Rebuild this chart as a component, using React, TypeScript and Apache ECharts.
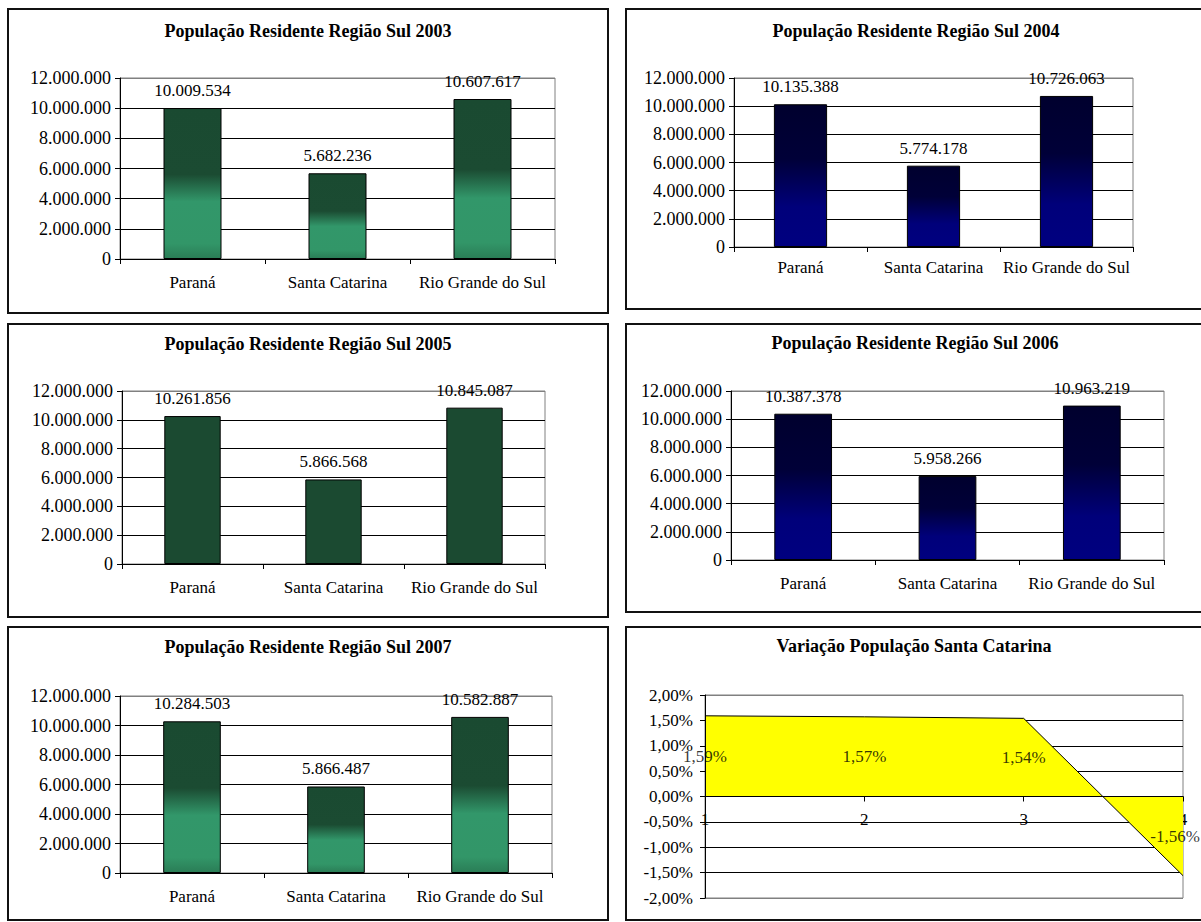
import React, { useEffect, useRef } from "react";
import * as echarts from "echarts";

// ---------- data ----------
const categories = ["Paraná", "Santa Catarina", "Rio Grande do Sul"];
const pop2003 = [10009534, 5682236, 10607617];
const pop2004 = [10135388, 5774178, 10726063];
const pop2005 = [10261856, 5866568, 10845087];
const pop2006 = [10387378, 5958266, 10963219];
const pop2007 = [10284503, 5866487, 10582887];
const popMin = 0;
const popMax = 12000000;
const popInterval = 2000000;

const variationCategories = ["1", "2", "3", "4"];
const variationSantaCatarina = [1.59, 1.57, 1.54, -1.56];
const pctMin = -2;
const pctMax = 2;
const pctInterval = 0.5;

const barTitles = [
  "População Residente Região Sul 2003",
  "População Residente Região Sul 2004",
  "População Residente Região Sul 2005",
  "População Residente Região Sul 2006",
  "População Residente Região Sul 2007",
];
const variationTitle = "Variação População Santa Catarina";

// ---------- styling ----------
const FONT = "Liberation Serif";
const FS = 17;
const FS_TITLE = 18;
const FS_POP_AXIS = 18;

function fmtThousands(v: number): string {
  return Math.round(v)
    .toString()
    .replace(/\B(?=(\d{3})+(?!\d))/g, ".");
}
function fmtPct(v: number): string {
  return v.toFixed(2).replace(".", ",") + "%";
}

function greenGradient() {
  return new echarts.graphic.LinearGradient(0, 0, 0, 1, [
    { offset: 0, color: "#1a4a31" },
    { offset: 0.44, color: "#1b4b32" },
    { offset: 0.62, color: "#32976a" },
    { offset: 0.9, color: "#329668" },
    { offset: 1, color: "#2a7d56" },
  ]);
}
function navyGradient() {
  return new echarts.graphic.LinearGradient(0, 0, 0, 1, [
    { offset: 0, color: "#00002e" },
    { offset: 0.38, color: "#000038" },
    { offset: 0.72, color: "#00007a" },
    { offset: 1, color: "#000080" },
  ]);
}
const solidGreen = "#1b4a31";

type BarPanel = {
  data: number[];
  title: string;
  fill: () => any;
  border: { x: number; y: number; w: number; h: number };
  titleX: number;
  titleY: number;
  grid: { left: number; top: number; width: number; height: number };
  catMargin: number;
};

const barPanels: BarPanel[] = [
  {
    data: pop2003,
    title: barTitles[0],
    fill: greenGradient,
    border: { x: 8, y: 9, w: 600, h: 304 },
    titleX: 308,
    titleY: 31,
    grid: { left: 120, top: 78, width: 435, height: 181 },
    catMargin: 15,
  },
  {
    data: pop2004,
    title: barTitles[1],
    fill: navyGradient,
    border: { x: 626, y: 9, w: 580, h: 300 },
    titleX: 916,
    titleY: 31,
    grid: { left: 734, top: 78, width: 399, height: 169 },
    catMargin: 12,
  },
  {
    data: pop2005,
    title: barTitles[2],
    fill: () => solidGreen,
    border: { x: 8, y: 324, w: 600, h: 293 },
    titleX: 308,
    titleY: 344,
    grid: { left: 122, top: 391, width: 423, height: 173 },
    catMargin: 15,
  },
  {
    data: pop2006,
    title: barTitles[3],
    fill: navyGradient,
    border: { x: 626, y: 324, w: 580, h: 288 },
    titleX: 915,
    titleY: 343,
    grid: { left: 731, top: 391, width: 433, height: 169 },
    catMargin: 15,
  },
  {
    data: pop2007,
    title: barTitles[4],
    fill: greenGradient,
    border: { x: 8, y: 627, w: 600, h: 293 },
    titleX: 308,
    titleY: 647,
    grid: { left: 120, top: 696, width: 432, height: 177 },
    catMargin: 15,
  },
];

const variationPanel = {
  border: { x: 626, y: 627, w: 580, h: 293 },
  titleX: 914,
  titleY: 646,
  grid: { left: 705, top: 695, width: 478, height: 203 },
};

function buildOption() {
  const grids: any[] = [];
  const xAxes: any[] = [];
  const yAxes: any[] = [];
  const series: any[] = [];
  const graphics: any[] = [];

  const textStyle = { color: "#000", fontFamily: FONT, fontSize: FS };

  barPanels.forEach((p, i) => {
    grids.push({
      ...p.grid,
      show: true,
      borderColor: "#808080",
      borderWidth: 1,
      backgroundColor: "transparent",
      containLabel: false,
      outerBoundsMode: "none",
    });
    xAxes.push({
      type: "category",
      gridIndex: i,
      data: categories,
      boundaryGap: true,
      axisLine: { show: true, onZero: false, lineStyle: { color: "#000", width: 1 } },
      axisTick: { show: true, length: 5, interval: 0, alignWithLabel: false, lineStyle: { color: "#000" } },
      axisLabel: { ...textStyle, interval: 0, margin: p.catMargin },
      splitLine: { show: false },
    });
    yAxes.push({
      type: "value",
      gridIndex: i,
      min: popMin,
      max: popMax,
      interval: popInterval,
      axisLine: { show: true, lineStyle: { color: "#000", width: 1 } },
      axisTick: { show: true, length: 5, lineStyle: { color: "#000" } },
      axisLabel: { ...textStyle, fontSize: FS_POP_AXIS, margin: 9, formatter: (v: number) => fmtThousands(v) },
      splitLine: {
        show: true,
        lineStyle: {
          color: ["#000", "#000", "#000", "#000", "#000", "#000", "#808080"],
          width: 1,
        },
      },
    });
    series.push({
      type: "bar",
      xAxisIndex: i,
      yAxisIndex: i,
      data: p.data,
      barWidth: "40%",
      itemStyle: { color: p.fill(), borderColor: "#000", borderWidth: 1 },
      label: {
        show: true,
        position: "top",
        distance: 9,
        ...textStyle,
        formatter: (prm: any) => fmtThousands(prm.value),
      },
      emphasis: { disabled: true },
      silent: true,
    });
    graphics.push({
      type: "rect",
      shape: { x: p.border.x, y: p.border.y, width: p.border.w, height: p.border.h },
      style: { fill: "none", stroke: "#111", lineWidth: 2 },
      silent: true,
    });
    graphics.push({
      type: "text",
      x: p.titleX,
      y: p.titleY,
      style: {
        text: p.title,
        fill: "#000",
        fontFamily: FONT,
        fontSize: FS_TITLE,
        fontWeight: "bold",
        align: "center",
        verticalAlign: "middle",
      },
      silent: true,
    });
  });

  // ----- variation area chart -----
  const vi = barPanels.length;
  const vp = variationPanel;
  // x axis sits on the zero value of the y axis (line, ticks and labels together)
  const zeroOffset = -(vp.grid.height * (0 - pctMin)) / (pctMax - pctMin);
  grids.push({
    ...vp.grid,
    show: true,
    borderColor: "#808080",
    borderWidth: 1,
    backgroundColor: "transparent",
    containLabel: false,
    outerBoundsMode: "none",
  });
  xAxes.push({
    type: "category",
    gridIndex: vi,
    data: variationCategories,
    boundaryGap: false,
    position: "bottom",
    offset: zeroOffset,
    axisLine: { show: true, onZero: false, lineStyle: { color: "#000", width: 1 } },
    axisTick: { show: true, length: 5, interval: 0, lineStyle: { color: "#000" } },
    axisLabel: { ...textStyle, interval: 0, margin: 14 },
    splitLine: { show: false },
  });
  yAxes.push({
    type: "value",
    gridIndex: vi,
    min: pctMin,
    max: pctMax,
    interval: pctInterval,
    axisLine: { show: true, onZero: false, lineStyle: { color: "#000", width: 1 } },
    axisTick: { show: true, length: 5, lineStyle: { color: "#000" } },
    axisLabel: { ...textStyle, margin: 12, formatter: (v: number) => fmtPct(v) },
    splitLine: {
      show: true,
      lineStyle: {
        color: ["#808080", "#000", "#000", "#000", "#000", "#000", "#000", "#000", "#808080"],
        width: 1,
      },
    },
  });
  series.push({
    type: "line",
    xAxisIndex: vi,
    yAxisIndex: vi,
    data: variationSantaCatarina,
    symbol: "none",
    lineStyle: { color: "#000", width: 1 },
    areaStyle: { color: "#ffff00", opacity: 1 },
    emphasis: { disabled: true },
    silent: true,
    markLine: {
      silent: true,
      symbol: "none",
      label: { show: false },
      lineStyle: { color: "#000", width: 1, type: "solid" },
      data: [{ yAxis: 0 }, { xAxis: 0 }],
    },
  });
  series.push({
    type: "scatter",
    xAxisIndex: vi,
    yAxisIndex: vi,
    symbolSize: 0.1,
    itemStyle: { color: "rgba(0,0,0,0)" },
    data: variationSantaCatarina.map((v, i) => ({
      value: [i, v / 2],
      label: i === variationSantaCatarina.length - 1 ? { offset: [-8, 0] } : undefined,
    })),
    label: {
      show: true,
      position: "inside",
      ...textStyle,
      formatter: (prm: any) => fmtPct(variationSantaCatarina[prm.dataIndex]),
    },
    z: 5,
    silent: true,
    emphasis: { disabled: true },
  });
  graphics.push({
    type: "rect",
    shape: { x: vp.border.x, y: vp.border.y, width: vp.border.w, height: vp.border.h },
    style: { fill: "none", stroke: "#111", lineWidth: 2 },
    silent: true,
  });
  graphics.push({
    type: "text",
    x: vp.titleX,
    y: vp.titleY,
    style: {
      text: variationTitle,
      fill: "#000",
      fontFamily: FONT,
      fontSize: FS_TITLE,
      fontWeight: "bold",
      align: "center",
      verticalAlign: "middle",
    },
    silent: true,
  });

  return {
    animation: false,
    backgroundColor: "#fff",
    textStyle: { fontFamily: FONT },
    grid: grids,
    xAxis: xAxes,
    yAxis: yAxes,
    series,
    graphic: { elements: graphics },
  };
}

export default function App() {
  const ref = useRef<HTMLDivElement>(null);
  useEffect(() => {
    if (!ref.current) return;
    const chart = echarts.init(ref.current, null, { renderer: "svg" });
    chart.setOption(buildOption() as any);
    return () => chart.dispose();
  }, []);
  return (
    <div
      ref={ref}
      style={{ position: "absolute", left: 0, top: 0, width: 1201, height: 922, background: "#fff" }}
    />
  );
}
